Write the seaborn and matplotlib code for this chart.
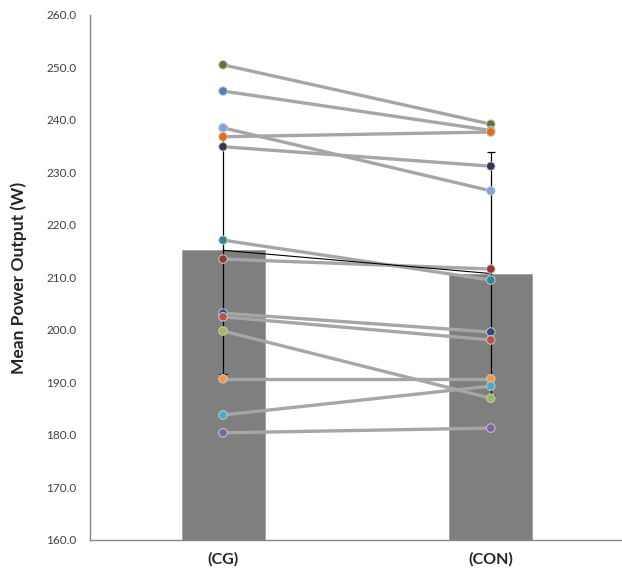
import pandas as pd
import matplotlib
matplotlib.use("Agg")
import matplotlib.pyplot as plt
import seaborn as sns

# ==============================
# DATA
# ==============================
groups = ["(CG)", "(CON)"]
cg_values = [250.5, 245.5, 238.5, 236.8, 234.9, 217.1, 213.5, 203.2, 202.5, 199.8, 190.7, 183.8, 180.4]
con_values = [239.2, 238.0, 226.5, 237.7, 231.2, 209.5, 211.6, 199.6, 198.1, 187.0, 190.7, 189.3, 181.3]
group_sd = [23.6, 23.1]
subject_colors = ["#5f7530", "#4f81bd", "#7ea6d6", "#e46c0a", "#403152", "#31849b", "#953735",
                  "#2c4d7e", "#c0504d", "#9bbb59", "#f79646", "#4bacc6", "#8064a2"]
subjects = [f"S{i + 1}" for i in range(len(cg_values))]

df = pd.DataFrame({
    "subject": subjects * 2,
    "group": [groups[0]] * len(cg_values) + [groups[1]] * len(con_values),
    "value": cg_values + con_values,
})

# ==============================
# PLOT
# ==============================
sns.set_style("white")
plt.rcParams["font.family"] = ["Lato", "DejaVu Sans"]

fig = plt.figure(figsize=(6.22, 5.75), dpi=100)
ax = fig.add_axes([0.145, 0.061, 0.855, 0.913])

sns.barplot(data=df, x="group", y="value", order=groups, color="#7f7f7f", saturation=1,
            width=0.31, errorbar=None, edgecolor="#a0a0a0", linewidth=0.6, ax=ax)

means = df.groupby("group", sort=False)["value"].mean()
ax.errorbar([0, 1], means.values, yerr=group_sd, fmt="none", ecolor="black",
            elinewidth=0.9, capsize=3, capthick=0.9, zorder=2.5)

for s in subjects:
    sub = df[df["subject"] == s]
    sns.lineplot(data=sub, x="group", y="value", color="#a6a6a6", linewidth=2.4,
                 sort=False, ax=ax, zorder=3)

ax.plot([0, 1], means.values, color="black", linewidth=0.8, zorder=4)

sns.scatterplot(data=df, x="group", y="value", hue="subject", palette=subject_colors,
                s=38, edgecolor="#c8c8c8", linewidth=0.7, legend=False, ax=ax, zorder=5)

ax.set_ylim(160, 260)
ax.set_xlim(-0.496, 1.49)
ax.set_yticks(range(160, 261, 10))
ax.set_yticklabels([f"{v:.1f}" for v in range(160, 261, 10)], fontsize=8.5, color="#404040")
ax.set_xticks([0, 1])
ax.set_xticklabels(groups, fontsize=11.5, fontweight="bold")
ax.tick_params(axis="y", length=0, pad=10)
ax.tick_params(axis="x", length=0, pad=9)
ax.set_xlabel("")
ax.set_ylabel("Mean Power Output (W)", fontsize=12.5, fontweight="bold", labelpad=14)

sns.despine(ax=ax, top=True, right=True)
for sp in ["left", "bottom"]:
    ax.spines[sp].set_color("#868686")
    ax.spines[sp].set_linewidth(1.0)

plt.savefig("out.png", dpi=100)
plt.close()
